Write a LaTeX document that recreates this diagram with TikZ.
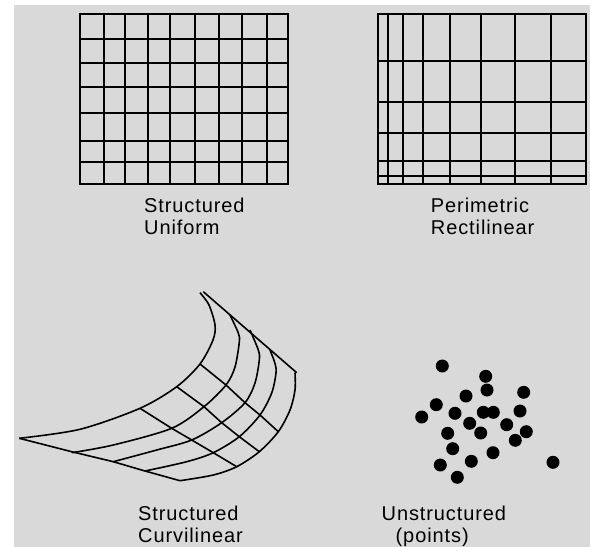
\documentclass[tikz,border=0pt]{standalone}
\usepackage{fontspec}
\setmainfont[LetterSpace=4.5]{Liberation Sans}
\usetikzlibrary{positioning}
\definecolor{PanelGray}{RGB}{217,217,217}

\begin{document}
\begin{tikzpicture}[
    x=1pt,
    y=-1pt,
    grid/.style={
        draw=black,
        line width=2pt
    },
    mesh/.style={
        draw=black,
        line width=1.6pt
    },
    point/.style={
        circle,
        fill=black,
        inner sep=0pt,
        minimum size=13pt
    },
    caption/.style={
        align=left,
        inner sep=0pt,
        font=\fontsize{20}{22}\selectfont
    }
]

\useasboundingbox (0,0) rectangle (590,547);
\fill[PanelGray] (14,5) rectangle (590,547);

% uniform grid
\draw[grid] (80,14) rectangle (288,184);
\foreach \x in {104,125,148.3,170.3,194.7,219,242,266.7}
    \draw[grid] (\x,14) -- (\x,184);
\foreach \y in {38.7,62.7,87.3,113.3,140.7,161.7}
    \draw[grid] (80,\y) -- (288,\y);

% rectilinear grid
\draw[grid] (378.3,14) rectangle (586,184);
\foreach \x in {387.7,403,422.7,450.3,481.3,515.3,551}
    \draw[grid] (\x,14) -- (\x,184);
\foreach \y in {61,101.7,133,161.3,175.7}
    \draw[grid] (378.3,\y) -- (586,\y);

% curvilinear mesh
\coordinate (tip) at (19.3,438.3);
\coordinate (base) at (180,480.7);
\draw[mesh] (tip) -- (71.7,451.7) -- (113.3,461.7) -- (145,471) -- (base);
\draw[mesh] (203.3,291.7) -- (296.7,372.7);
\draw[mesh] plot[smooth] coordinates {(tip) (80,429.3) (140,408.3) (176.7,386.7) (200,364) (213,340) (215,325) (209,305) (200,292.7)};
\draw[mesh] plot[smooth] coordinates {(71.7,452.7) (113.3,445) (171.7,428.3) (204,406.7) (226,385) (235,367) (239.3,342) (238.3,333) (230,315)};
\draw[mesh] plot[smooth] coordinates {(113.3,461.7) (156.7,450) (191.7,440) (221.7,422.7) (245,402.7) (255,383) (259.3,360) (258.3,350) (250,330)};
\draw[mesh] plot[smooth] coordinates {(145,471) (186.7,461.7) (213.3,452.7) (239.3,436.7) (260,415) (271.7,393) (276,373) (275,363.3) (270,350)};
\draw[mesh] plot[smooth] coordinates {(base) (213.3,475) (236.7,466.7) (259.3,451.7) (278.3,431.7) (290,410) (295,390) (295,372.7)};
\draw[mesh] (140,408.3) -- (171.7,428.3) -- (191.7,440) -- (213.3,452.7) -- (236.7,466.7);
\draw[mesh] (176.7,386.7) -- (204,406.7) -- (221.7,422.7) -- (239.3,436.7) -- (259.3,451.7);
\draw[mesh] (200,364) -- (226,385) -- (245,402.7) -- (260,415) -- (278.3,431.7);

% unstructured points
\foreach \px/\py [count=\i] in {442.3/366,485.7/376.3,487/390,466/396,523.7/392.3,436.3/404.7,421.7/417,455/413.3,483.3/412.3,493.3/412.3,520/411,469.7/423.3,506.7/424.7,447.7/433.3,480.7/433,526.3/431.7,515.3/440.3,452.7/448.7,493/452.7,471.3/461.3,440.3/465,457.3/477.3,553/462.3}
    \node[point] (pt\i) at (\px,\py) {};

% captions
\node[caption,anchor=north west] (uniformlabel) at (144,198)
{Structured\\Uniform};

\node[caption,right=186pt of uniformlabel] (rectlabel)
{Perimetric\\Rectilinear};

\node[caption,anchor=north west] (curvlabel) at (138,505.5)
{Structured\\Curvilinear};

\node[caption,anchor=north west] (pointslabel) at (381.5,505.5)
{Unstructured\\\hspace*{14pt}(points)};

\end{tikzpicture}
\end{document}
